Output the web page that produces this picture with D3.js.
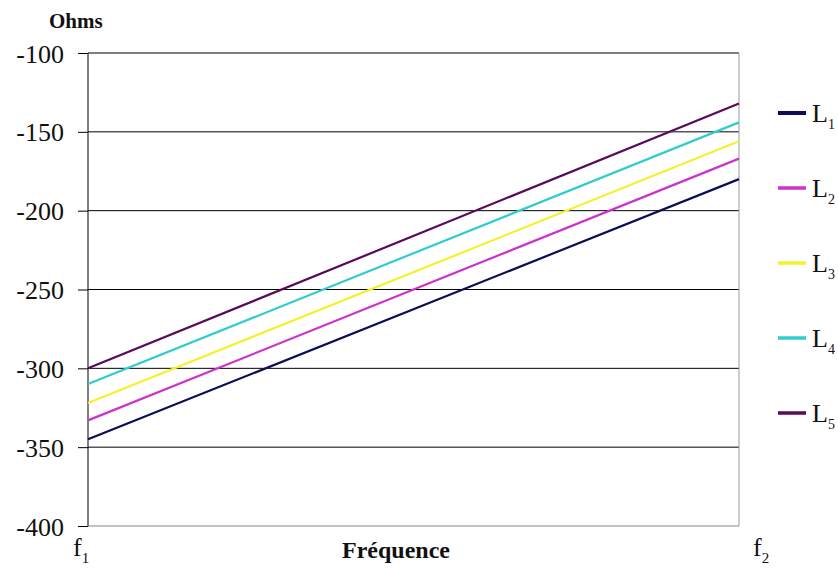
<!DOCTYPE html>
<html><head><meta charset="utf-8">
<script src="https://cdn.jsdelivr.net/npm/d3@7"></script>
<style>body{margin:0;background:#fff}svg{display:block}</style>
</head><body>
<svg id="c" width="838" height="572"></svg>
<script>
const categories = ["f1", "f2"];
const seriesNames = ["L1", "L2", "L3", "L4", "L5"];
const L1 = [-345, -180];
const L2 = [-333, -167];
const L3 = [-322, -156];
const L4 = [-310, -144];
const L5 = [-300, -132];
const yTicks = [-400, -350, -300, -250, -200, -150, -100];
const colors = ["#0d0d55", "#cc33cc", "#f2f22e", "#33cccc", "#5a0a5a"];
const series = [L1, L2, L3, L4, L5];

(function () {
const svg = d3.select("#c");
const pLeft = 88, pRight = 739, pTop = 53, pBottom = 526;
const x = d3.scalePoint().domain(categories).range([pLeft, pRight]);
const y = d3.scaleLinear().domain([-400, -100]).range([pBottom, pTop]);
const serif = "'Liberation Serif', 'Times New Roman', serif";

// gridlines
svg.append("g").selectAll("line").data(yTicks.filter(v => v > -400)).join("line")
  .attr("x1", pLeft).attr("x2", pRight).attr("y1", d => y(d)).attr("y2", d => y(d))
  .attr("stroke", "#000").attr("stroke-width", 1);
// bottom axis line (gray)
svg.append("line").attr("x1", pLeft).attr("x2", pRight).attr("y1", y(-400)).attr("y2", y(-400))
  .attr("stroke", "#888").attr("stroke-width", 1);
// right border
svg.append("line").attr("x1", pRight).attr("x2", pRight).attr("y1", y(-100)).attr("y2", y(-400))
  .attr("stroke", "#999").attr("stroke-width", 1);

// left axis
const yAxis = d3.axisLeft(y).tickValues(yTicks).tickSize(10).tickPadding(14).tickFormat(d3.format("d"));
const ga = svg.append("g").attr("transform", `translate(${pLeft},0)`).call(yAxis);
ga.attr("font-family", serif);
ga.select(".domain").attr("stroke", "#000").attr("d", `M0,${y(-100)}V${y(-400)}`);
ga.selectAll(".tick line").attr("stroke", "#000");
ga.selectAll(".tick text").attr("font-family", serif).attr("font-size", 26).attr("fill", "#111")
  .text(d => "-" + Math.abs(d)).attr("dy", "0.35em");

// lines
const line = d3.line().x((d, i) => x(categories[i])).y(d => y(d));
svg.append("g").selectAll("path").data(series).join("path")
  .attr("d", d => line(d)).attr("fill", "none")
  .attr("stroke", (d, i) => colors[i]).attr("stroke-width", 2.2);

// Y title
svg.append("text").attr("x", 49).attr("y", 28).attr("font-family", serif)
  .attr("font-weight", "bold").attr("font-size", 21).attr("fill", "#111").text("Ohms");

// x category labels
categories.forEach((c, i) => {
  const t = svg.append("text").attr("x", x(c) - (i === 0 ? 15 : -14)).attr("y", 556)
    .attr("font-family", serif).attr("font-size", 26).attr("fill", "#111");
  t.append("tspan").text(c[0]);
  t.append("tspan").attr("font-size", 15).attr("dy", 7).text(c.slice(1));
});

// x title
svg.append("text").attr("x", 396).attr("y", 558).attr("text-anchor", "middle")
  .attr("font-family", serif).attr("font-weight", "bold").attr("font-size", 24).attr("fill", "#111")
  .text("Fréquence");

// legend
const lg = svg.append("g");
seriesNames.forEach((n, i) => {
  const ly = 113 + i * 75;
  lg.append("line").attr("x1", 778).attr("x2", 806).attr("y1", ly).attr("y2", ly)
    .attr("stroke", colors[i]).attr("stroke-width", i === 0 ? 4 : 3.5);
  const t = lg.append("text").attr("x", 812).attr("y", ly + 9)
    .attr("font-family", serif).attr("font-size", 26).attr("fill", "#111");
  t.append("tspan").text(n[0]);
  t.append("tspan").attr("font-size", 14).attr("dy", 7).text(n.slice(1));
});
})();
</script>
</body></html>
